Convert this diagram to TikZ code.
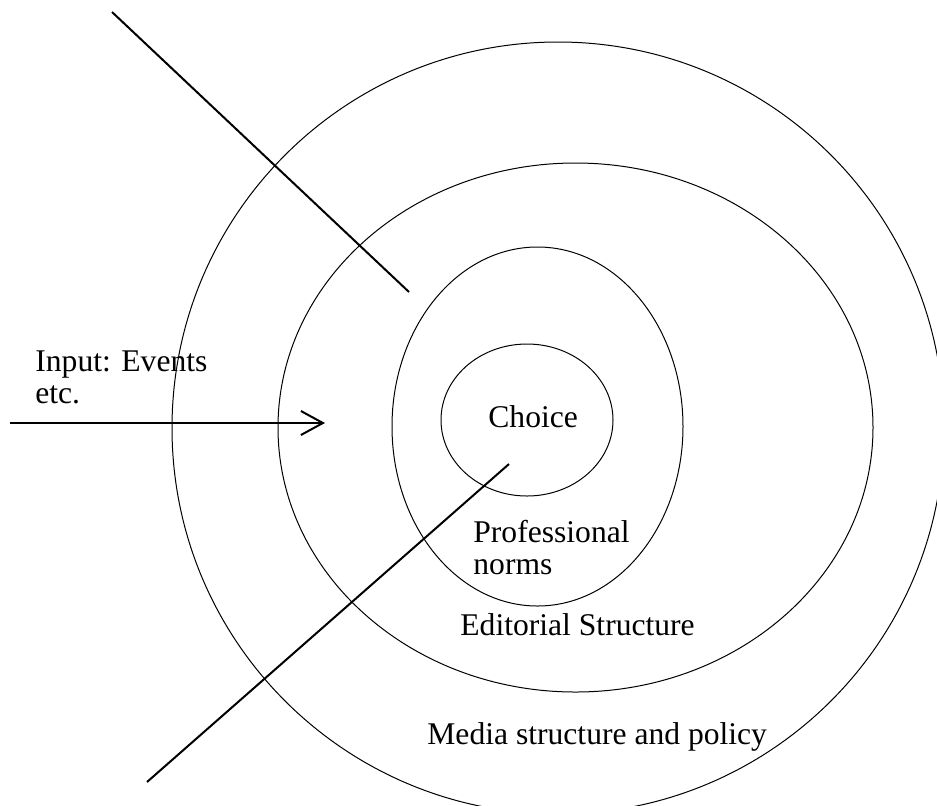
\documentclass[tikz,border=0pt]{standalone}
\usepackage{fontspec}
\setmainfont{Liberation Serif}
\usepackage{tikz}
\usetikzlibrary{arrows.meta}

\begin{document}
\begin{tikzpicture}[x=0.5pt,y=-0.5pt,>={Straight Barb[length=11pt,width=12pt]},
	lbl/.style={inner sep=0pt,font=\fontsize{15.8}{16}\selectfont}]
	\useasboundingbox (0,0) rectangle (937,805);
	
	\foreach \cx/\cy/\rx/\ry in {558/428/193/193, 575.5/427.5/148.75/132.25, 537.5/426.5/72.75/89.75, 527/420/43/38}
		\draw[line width=0.5pt] (\cx,\cy) ellipse [x radius=\rx pt, y radius=\ry pt];
	
	\coordinate (topstart) at (112,12);
	\coordinate (topend) at (409,292);
	\coordinate (botstart) at (147,782);
	\coordinate (botend) at (509,464);
	\coordinate (instart) at (10,423);
	\coordinate (inend) at (325,423);
	
	\draw[line width=1pt] (topstart) -- (topend);
	\draw[line width=1pt] (botstart) -- (botend);
	\draw[line width=1pt, ->] (instart) -- (inend);
	
	\node[lbl, anchor=north west, align=left] (input) at (35,350) {Input: Events\\etc.};
	\node[lbl, anchor=base west] (choice) at (488,427) {Choice};
	\node[lbl, anchor=north west, align=left] (norms) at (473,520) {Professional\\norms};
	\node[lbl, anchor=base west] (editorial) at (460,635) {Editorial Structure};
	\node[lbl, anchor=base west] (media) at (427,744) {Media structure and policy};
\end{tikzpicture}
\end{document}
